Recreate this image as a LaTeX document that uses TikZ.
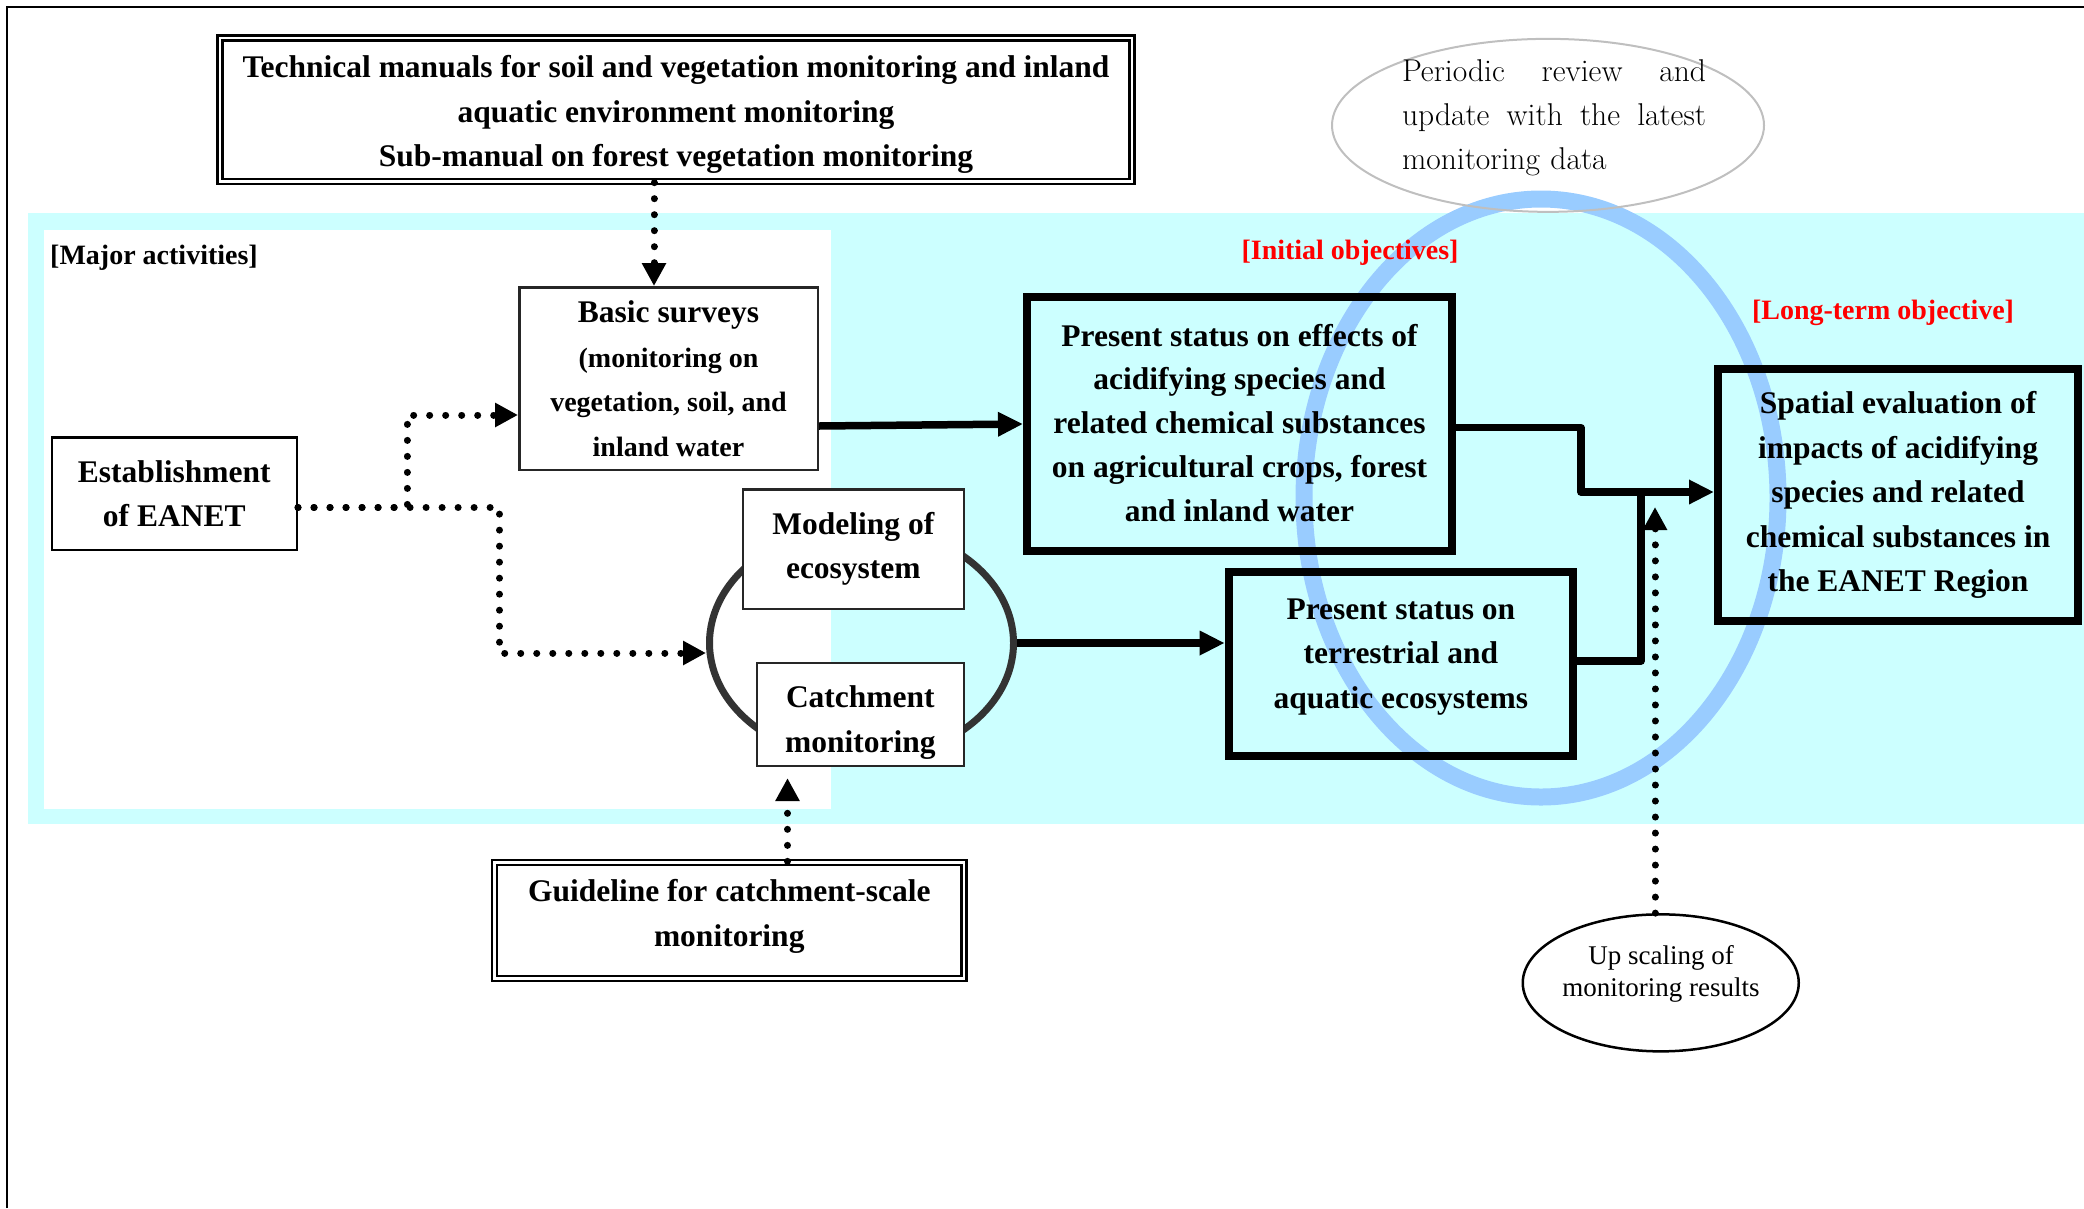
\documentclass[tikz,border=0pt]{standalone}
\usepackage{fontspec}
\newfontfamily\tnr{Liberation Serif}
\usetikzlibrary{arrows.meta,shapes.geometric}
\definecolor{bgcyan}{HTML}{CCFFFF}
\definecolor{ringblue}{HTML}{99CCFF}
\definecolor{loopgray}{HTML}{333333}
\definecolor{ellgray}{HTML}{BFBFBF}
\newcommand{\smallline}{\fontsize{28}{44}\selectfont}
\begin{document}
\begin{tikzpicture}[x=1pt,y=-1pt,
  boxtext/.style={font=\tnr\bfseries\fontsize{31.5}{44.5}\selectfont, align=center},
  thinbox/.style={draw=black!85, line width=2.5pt, fill=white, inner sep=0pt, boxtext},
  thickbox/.style={draw=black, line width=8pt, inner sep=0pt, boxtext},
  dblbox/.style={draw=black, double=white, double distance=2.5pt, line width=2.3pt, inner sep=0pt, boxtext},
  dotarrow/.style={line width=7pt, dash pattern=on 0.01pt off 16pt, line cap=round, -{Triangle[length=23pt,width=23pt]}},
  solidarrow/.style={line width=7.5pt, line join=round, -{Triangle[length=25pt,width=23pt]}},
  solidline/.style={line width=7.5pt, line join=round},
  redlabel/.style={font=\tnr\bfseries\fontsize{28}{32}\selectfont, text=red, inner sep=0pt},
]
\useasboundingbox (0,0) rectangle (2084,1208);
% frame
\draw[line width=2pt] (6.7,1208) -- (6.7,6.7) -- (2084,6.7);
% background band
\fill[bgcyan] (28,213) rectangle (2084,824);
\fill[white] (44,230) rectangle (831,809);
% blue ring
\draw[ringblue, line width=17pt] (1541,498) ellipse [x radius=237pt, y radius=299pt];
% periodic review ellipse
\node[ellipse, draw=ellgray, line width=2pt, minimum width=432pt, minimum height=173pt, inner sep=0pt] (periodic) at (1548,125.35) {};
\node[font=\fontsize{31.5}{44}\selectfont, align=left, text width=304pt, inner sep=0pt] (periodictext) at (1554,118)
  {\makebox[304pt][l]{Periodic\hfill review\hfill and}\\\makebox[304pt][l]{update\hfill with\hfill the\hfill latest}\\monitoring data};
% loop ellipse
\node[ellipse, draw=loopgray, line width=7pt, minimum width=304pt, minimum height=234pt, inner sep=0pt] (loop) at (861.5,643) {};
% boxes
\node[dblbox, minimum width=912pt, minimum height=143.5pt] (tech) at (676,109.75)
  {\rule{0pt}{32pt}Technical manuals for soil and vegetation monitoring and inland\\aquatic environment monitoring\\Sub-manual on forest vegetation monitoring};
\node[dblbox, minimum width=469.5pt, minimum height=116pt] (guide) at (729.25,920.5)
  {Guideline for catchment-scale\\monitoring\rule[-15pt]{0pt}{0pt}};
\node[thinbox, minimum width=298.5pt, minimum height=182.5pt] (basic) at (668.5,378.5)
  {Basic surveys\\\smallline(monitoring on\\\smallline vegetation, soil, and\\\smallline inland water};
\node[thinbox, draw=black, minimum width=245pt, minimum height=112.5pt] (estab) at (174.25,493.5)
  {Establishment\\of EANET};
\node[thinbox, minimum width=221pt, minimum height=119.5pt] (model) at (853.35,549)
  {Modeling of\\ecosystem};
\node[thinbox, minimum width=207pt, minimum height=103pt] (catch) at (860.35,714.35)
  {\rule{0pt}{38pt}Catchment\\monitoring};
\node[thickbox, font=\tnr\bfseries\fontsize{31.5}{43.7}\selectfont, minimum width=425pt, minimum height=254pt] (effects) at (1239.5,424)
  {Present status on effects of\\acidifying species and\\related chemical substances\\on agricultural crops, forest\\and inland water\rule[-3pt]{0pt}{0pt}};
\node[thickbox, minimum width=344.3pt, minimum height=183.4pt] (terr) at (1400.85,664.1)
  {Present status on\\terrestrial and\\aquatic ecosystems\rule[-21pt]{0pt}{0pt}};
\node[thickbox, minimum width=360pt, minimum height=252pt] (spatial) at (1898,495)
  {Spatial evaluation of\\impacts of acidifying\\species and related\\chemical substances in\\the EANET Region};
\node[ellipse, draw=black, line width=2.5pt, minimum width=276pt, minimum height=137pt, inner sep=0pt] (upscale) at (1660.75,982.85) {};
\node[font=\tnr\fontsize{27}{32}\selectfont, align=center, inner sep=0pt] (uptext) at (1661,974)
  {Up scaling of\\monitoring results};
% labels
\node[font=\tnr\bfseries\fontsize{28}{32}\selectfont, anchor=west, inner sep=0pt] (major) at (50,258) {[Major activities]};
\node[redlabel] (initial) at (1350,252.5) {[Initial objectives]};
\node[redlabel] (longterm) at (1883,312.5) {[Long-term objective]};
% connectors
\draw[dotarrow] ([xshift=-22pt]tech.south) -- ([xshift=-14.5pt]basic.north);
\draw[dotarrow] ([yshift=-14pt]estab.east) -| (407,415) -- ([yshift=-36.5pt]basic.west);
\draw[dotarrow] ([yshift=-14pt]estab.east) -| (499.5,653) -- ([yshift=-10pt]loop.west);
\draw[dotarrow] ([xshift=58.25pt]guide.north) -- ([xshift=-72.85pt,yshift=-11pt]catch.south);
\draw[solidarrow] ([yshift=-47.5pt]basic.east) -- (effects.west);
\draw[solidarrow] (loop.east) -- (loop.east -| terr.west);
\coordinate (join) at (1581,492);
\draw[solidarrow] ([yshift=-3.7pt]effects.east) -| (join) -- (join -| spatial.west);
\draw[solidline] ([yshift=3pt]terr.east) -| ([xshift=60pt,yshift=3.5pt]join);
\coordinate (uptip) at (1655,507);
\draw[dotarrow] ([xshift=-5.75pt]upscale.north) -- (uptip);
\end{tikzpicture}
\end{document}
